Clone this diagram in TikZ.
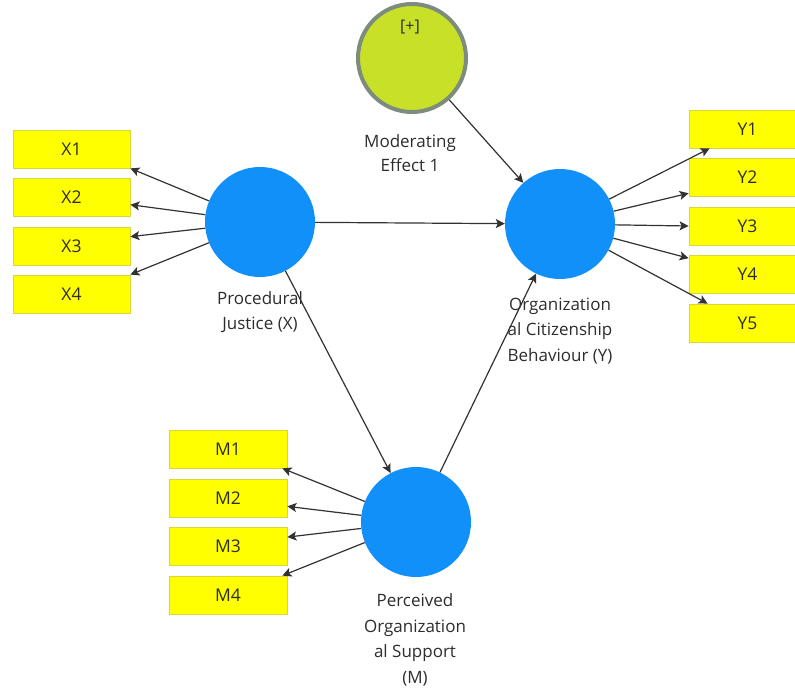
\documentclass[tikz,border=0pt]{standalone}
\usepackage{fontspec}
\setmainfont{Open Sans}
\usetikzlibrary{arrows.meta,calc}
\definecolor{lvblue}{RGB}{17,144,250}
\definecolor{indyellow}{RGB}{255,255,0}
\definecolor{boxedge}{RGB}{215,215,60}
\definecolor{modfill}{RGB}{200,225,40}
\definecolor{modedge}{RGB}{125,140,125}
\definecolor{arrcol}{RGB}{50,50,50}
\definecolor{txt}{RGB}{45,45,45}
\begin{document}
\begin{tikzpicture}[x=1pt,y=-1pt,
  ind/.style={draw=boxedge, line width=0.8pt, fill=indyellow, minimum width=117pt, minimum height=38pt, inner sep=0pt, font=\fontsize{17.5}{20}\selectfont, text=txt},
  lv/.style={circle, fill=lvblue, minimum size=110pt, inner sep=0pt},
  lbl/.style={align=center, font=\fontsize{17}{25.5}\selectfont, text=txt, inner sep=0pt},
  arr/.style={draw=arrcol, line width=1.2pt, -{Stealth[length=9pt,width=9pt,inset=2pt]}}]
\clip (0,0) rectangle (795,690);
\fill[white] (0,0) rectangle (795,690);
% latent variables
\node[lv] (X) at (260,222) {};
\node[lv] (Y) at (560,224) {};
\node[lv] (M) at (416,522) {};
\node[circle, draw=modedge, line width=4pt, fill=modfill, minimum size=108pt, inner sep=0pt] (mod) at (412,58) {};
\node[font=\fontsize{16}{18}\selectfont, text=txt] (plus) at (410,27) {[+]};
% labels
\node[lbl] (lx) at (260,312) {Procedural\\Justice (X)};
\node[lbl] (ly) at (560,331) {Organization\\al Citizenship\\Behaviour (Y)};
\node[lbl] (lm) at (415,640) {Perceived\\Organization\\al Support\\(M)};
\node[lbl, font=\fontsize{17}{23.5}\selectfont] (lmod) at (410,153) {Moderating\\Effect 1};
% indicators X
\node[ind] (x1) at (71.5,149) {X1};
\node[ind] (x2) at (71.5,197.5) {X2};
\node[ind] (x3) at (71.5,246) {X3};
\node[ind] (x4) at (71.5,294) {X4};
% indicators Y
\node[ind] (y1) at (747.5,129) {Y1};
\node[ind] (y2) at (747.5,177.5) {Y2};
\node[ind] (y3) at (747.5,226) {Y3};
\node[ind] (y4) at (747.5,274) {Y4};
\node[ind] (y5) at (747.5,323) {Y5};
% indicators M
\node[ind, minimum width=118pt] (m1) at (228,449) {M1};
\node[ind, minimum width=118pt] (m2) at (228,498) {M2};
\node[ind, minimum width=118pt] (m3) at (228,546.5) {M3};
\node[ind, minimum width=118pt] (m4) at (228,595) {M4};
% outer loadings
\draw[arr] (X) -- (x1.south east);
\draw[arr] (X) -- (x2.-7);
\draw[arr] (X) -- (x3.9);
\draw[arr] (X) -- (x4.north east);
\draw[arr] (Y) -- ($(y1.south west)+(21,0)$);
\draw[arr] (Y) -- (y2.195);
\draw[arr] (Y) -- (y3.west);
\draw[arr] (Y) -- (y4.165);
\draw[arr] (Y) -- ($(y5.north west)+(19,0)$);
\draw[arr] (M) -- ($(m1.south east)+(-5,0)$);
\draw[arr] (M) -- (m2.-8);
\draw[arr] (M) -- (m3.9);
\draw[arr] (M) -- ($(m4.north east)+(-5,0)$);
% structural paths
\draw[arr] (X) -- (Y);
\draw[arr] (X) -- (M);
\draw[arr] (M) -- (Y);
\draw[arr] (mod) -- (Y);
\end{tikzpicture}
\end{document}
